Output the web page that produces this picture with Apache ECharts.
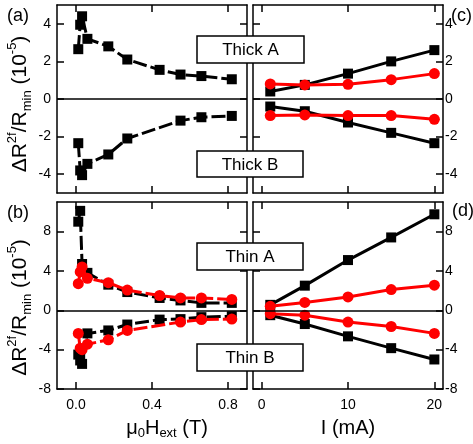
<!DOCTYPE html>
<html>
<head>
<meta charset="utf-8">
<script src="https://cdn.jsdelivr.net/npm/echarts@6/dist/echarts.min.js"></script>
<style>
  html, body { margin: 0; padding: 0; background: #fff; }
  #chart { width: 473px; height: 444px; }
</style>
</head>
<body>
<div id="chart"></div>
<script>
// field sweep (T) - panels (a), (b)
const fieldA = [0.012, 0.022, 0.032, 0.06, 0.17, 0.27, 0.44, 0.55, 0.66, 0.82];
const fieldB = [0.012, 0.022, 0.032, 0.06, 0.17, 0.27, 0.55, 0.66, 0.82];
const fieldThinRedB = [0.012, 0.022, 0.032, 0.06, 0.17, 0.27, 0.55, 0.66, 0.82];

const thickFieldA = [2.65, 3.95, 4.4, 3.2, 2.8, 2.1, 1.55, 1.3, 1.22, 1.05];
const thickFieldB = [-2.35, -3.8, -4.05, -3.45, -2.95, -2.1, -1.15, -0.97, -0.9];

const thinFieldBlackA = [9.0, 10.1, 4.7, 3.8, 2.6, 1.85, 1.25, 1.0, 0.75, 0.75];
const thinFieldRedA = [2.7, 3.9, 4.4, 3.25, 2.8, 2.05, 1.5, 1.25, 1.25, 1.1];
const thinFieldBlackB = [-4.5, -5.1, -5.45, -2.35, -2.05, -1.45, -0.95, -0.9, -0.7, -0.6];
const thinFieldRedB = [-2.35, -3.85, -4.0, -3.45, -3.0, -2.05, -1.2, -0.95, -0.9];

// current sweep (mA) - panels (c), (d)
const current = [1, 5, 10, 15, 20];
const thickBlackA = [0.4, 0.75, 1.35, 2.0, 2.6];
const thickRedA = [0.8, 0.75, 0.78, 1.03, 1.35];
const thickBlackB = [-0.4, -0.65, -1.25, -1.8, -2.35];
const thickRedB = [-0.88, -0.85, -0.88, -0.88, -1.08];
const thinBlackA = [0.55, 2.5, 5.1, 7.4, 9.75];
const thinRedA = [0.4, 0.8, 1.35, 2.1, 2.55];
const thinBlackB = [-0.5, -1.4, -2.65, -3.85, -5.0];
const thinRedB = [-0.35, -0.5, -1.2, -1.65, -2.35];

// tick labels
const fieldTicks = [0, 0.4, 0.8];
const currentTicks = [0, 10, 20];
const thickTicks = [-4, -2, 0, 2, 4];
const thinTicks = [-8, -4, 0, 4, 8];

const font = "'Liberation Sans', Arial, Helvetica, sans-serif";
const RED = '#ff0000';

const pairs = (xs, ys) => xs.map((x, i) => [x, ys[i]]);

const axisLineStyle = { show: true, onZero: false, lineStyle: { color: '#000', width: 1.5 } };

function xAx(grid, pos, min, max, ticks, labels, fmt, name) {
  return {
    type: 'value', gridIndex: grid, position: pos, min: min, max: max,
    axisLine: axisLineStyle,
    axisTick: { show: true, inside: true, length: 7, customValues: ticks, lineStyle: { color: '#000', width: 1.5 } },
    axisLabel: { show: labels, customValues: ticks, margin: 9, fontSize: 14, fontFamily: font, color: '#000', formatter: fmt },
    splitLine: { show: false },
    name: name || '',
    nameLocation: 'middle',
    nameGap: 28,
    nameTextStyle: {
      fontSize: 20, fontFamily: font, color: '#000', lineHeight: 23,
      padding: name && name.indexOf('ext') >= 0 ? [0, 0, 0, 30] : 0,
      rich: {
        b: { fontSize: 20, fontFamily: font, color: '#000', lineHeight: 23 },
        sub: { fontSize: 13, fontFamily: font, color: '#000', lineHeight: 13, verticalAlign: 'bottom' }
      }
    }
  };
}

const yName = '{b|ΔR}{sup|2f}{b|/R}{sub|min}{b| (10}{sup|-5}{b|)}';

function yAx(grid, pos, min, max, ticks, labels, name, shift) {
  return {
    type: 'value', gridIndex: grid, position: pos, min: min, max: max,
    axisLine: axisLineStyle,
    axisTick: { show: true, inside: true, length: 7, customValues: ticks, lineStyle: { color: '#000', width: 1.5 } },
    axisLabel: {
      show: labels, customValues: ticks, fontSize: 14, fontFamily: font, color: '#000',
      margin: pos === 'right' ? 2 : 6, align: pos === 'right' ? 'left' : 'right'
    },
    splitLine: { show: false },
    name: name || '',
    nameLocation: 'middle',
    nameRotate: 90,
    nameGap: 23,
    nameTextStyle: {
      fontSize: 21, fontFamily: font, color: '#000', lineHeight: 28,
      padding: [0, shift || 0, 0, 0],
      rich: {
        b: { fontSize: 21, fontFamily: font, color: '#000', lineHeight: 28 },
        sup: { fontSize: 13, fontFamily: font, color: '#000', lineHeight: 13, verticalAlign: 'top' },
        sub: { fontSize: 13, fontFamily: font, color: '#000', lineHeight: 13, verticalAlign: 'bottom' }
      }
    }
  };
}

const zeroLine = {
  silent: true, symbol: ['none', 'none'], label: { show: false },
  lineStyle: { color: '#000', width: 1.5, type: 'solid' },
  data: [{ yAxis: 0 }]
};

function line(grid, data, color, symbol, dashed, withZero) {
  const s = {
    type: 'line', xAxisIndex: grid * 2, yAxisIndex: grid * 2, data: data,
    symbol: symbol, symbolSize: symbol === 'rect' ? 10 : 11,
    showSymbol: true,
    lineStyle: { color: color, width: 3, type: dashed ? [14, 4] : 'solid' },
    itemStyle: { color: color },
    z: color === RED ? 4 : 3,
    animation: false
  };
  if (withZero) s.markLine = zeroLine;
  return s;
}

function box(x, y, w, h, label) {
  return [
    { type: 'rect', z: 100, shape: { x: x, y: y, width: w, height: h }, style: { fill: '#fff', stroke: '#000', lineWidth: 1.5 } },
    { type: 'text', z: 101, x: x + w / 2, y: y + h / 2 + 1, style: { text: label, align: 'center', verticalAlign: 'middle', fontSize: 17, fontFamily: font, fill: '#000' } }
  ];
}

function panelLabel(x, y, t) {
  return { type: 'text', z: 101, x: x, y: y, style: { text: t, fontSize: 18, fontFamily: font, fill: '#000' } };
}

const initChart = () => {
  let element = document.getElementById('chart');
  let myChart = echarts.init(element);
  let option;
  option = {
    backgroundColor: '#fff',
    animation: false,
    grid: [
      { left: 57, top: 5, width: 190, height: 188 },      // (a)
      { left: 253, top: 5, width: 190, height: 188 },     // (c)
      { left: 57, top: 202, width: 190, height: 187 },    // (b)
      { left: 253, top: 202, width: 190, height: 187 }    // (d)
    ],
    xAxis: [
      xAx(0, 'bottom', -0.1, 0.9, fieldTicks, false),
      xAx(0, 'top', -0.1, 0.9, fieldTicks, false),
      xAx(1, 'bottom', -1, 21, currentTicks, false),
      xAx(1, 'top', -1, 21, currentTicks, false),
      xAx(2, 'bottom', -0.1, 0.9, fieldTicks, true, v => v.toFixed(1), '{b|μ}{sub|0}{b|H}{sub|ext}{b| (T)}'),
      xAx(2, 'top', -0.1, 0.9, fieldTicks, false),
      xAx(3, 'bottom', -1, 21, currentTicks, true, v => String(v), 'I (mA)'),
      xAx(3, 'top', -1, 21, currentTicks, false)
    ],
    yAxis: [
      yAx(0, 'left', -5, 5, thickTicks, true, yName, 10),
      yAx(0, 'right', -5, 5, thickTicks, false),
      yAx(1, 'left', -5, 5, thickTicks, false),
      yAx(1, 'right', -5, 5, thickTicks, true),
      yAx(2, 'left', -8, 11, thinTicks, true, yName, 24),
      yAx(2, 'right', -8, 11, thinTicks, false),
      yAx(3, 'left', -8, 11, thinTicks, false),
      yAx(3, 'right', -8, 11, thinTicks, true)
    ],
    series: [
      line(0, pairs(fieldA, thickFieldA), '#000', 'rect', true, true),
      line(0, pairs(fieldB, thickFieldB), '#000', 'rect', true),

      line(1, pairs(current, thickBlackA), '#000', 'rect', false, true),
      line(1, pairs(current, thickBlackB), '#000', 'rect', false),
      line(1, pairs(current, thickRedA), RED, 'circle', false),
      line(1, pairs(current, thickRedB), RED, 'circle', false),

      line(2, pairs(fieldA, thinFieldBlackA), '#000', 'rect', true, true),
      line(2, pairs(fieldA, thinFieldBlackB), '#000', 'rect', true),
      line(2, pairs(fieldA, thinFieldRedA), RED, 'circle', true),
      line(2, pairs(fieldThinRedB, thinFieldRedB), RED, 'circle', true),

      line(3, pairs(current, thinBlackA), '#000', 'rect', false, true),
      line(3, pairs(current, thinBlackB), '#000', 'rect', false),
      line(3, pairs(current, thinRedA), RED, 'circle', false),
      line(3, pairs(current, thinRedB), RED, 'circle', false)
    ],
    graphic: [
      ...box(197, 36, 107, 27, 'Thick A'),
      ...box(197, 151, 106, 26, 'Thick B'),
      ...box(197, 243, 106, 27, 'Thin A'),
      ...box(197, 344, 106, 27, 'Thin B'),
      panelLabel(7, 7, '(a)'),
      panelLabel(7, 204, '(b)'),
      panelLabel(451, 7, '(c)'),
      panelLabel(452, 202, '(d)')
    ]
  };

  option && myChart.setOption(option);
};

initChart();
</script>
</body>
</html>
